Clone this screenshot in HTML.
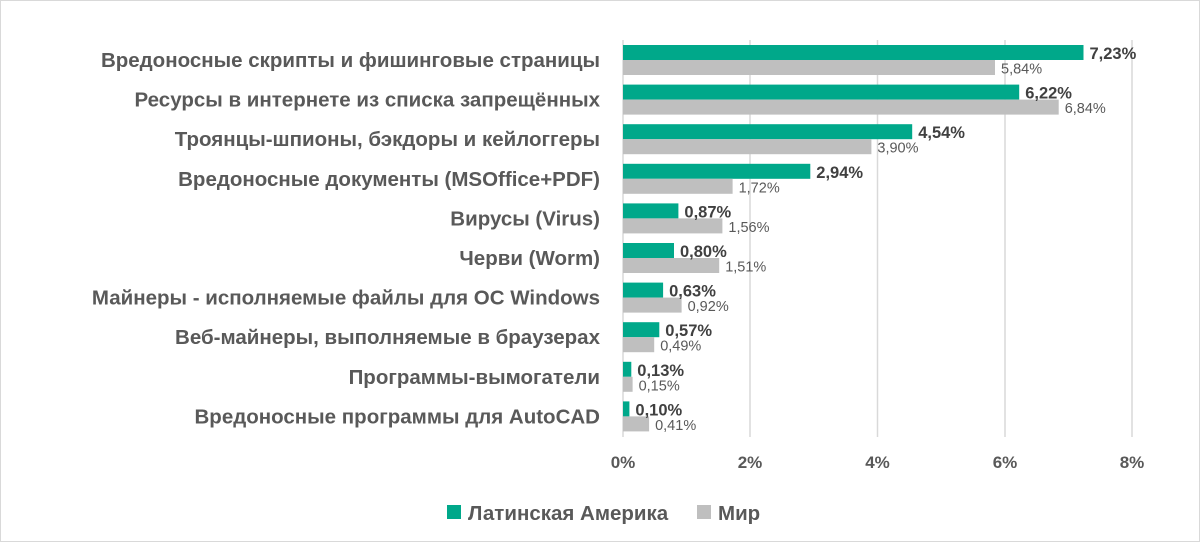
<!DOCTYPE html>
<html><head><meta charset="utf-8"><style>body{margin:0;background:#fff}svg{display:block}</style></head><body>
<svg width="1200" height="542" xmlns="http://www.w3.org/2000/svg" font-family="Liberation Sans, sans-serif">
<rect x="0.5" y="0.5" width="1199" height="541" fill="#fff" stroke="#d9d9d9"/>
<g stroke="#d9d9d9" stroke-width="1.5">
<line x1="750" y1="40" x2="750" y2="437"/><line x1="877.5" y1="40" x2="877.5" y2="437"/><line x1="1005" y1="40" x2="1005" y2="437"/><line x1="1132" y1="40" x2="1132" y2="437"/><line x1="623" y1="40" x2="623" y2="437"/>
</g>
<g font-size="20.5" font-weight="bold" fill="#595959" text-anchor="end">
<text x="600" y="67">Вредоносные скрипты и фишинговые страницы</text>
<text x="600" y="106.6">Ресурсы в интернете из списка запрещённых</text>
<text x="600" y="146.2">Троянцы-шпионы, бэкдоры и кейлоггеры</text>
<text x="600" y="185.8">Вредоносные документы (MSOffice+PDF)</text>
<text x="600" y="225.4">Вирусы (Virus)</text>
<text x="600" y="265">Черви (Worm)</text>
<text x="600" y="304.6">Майнеры - исполняемые файлы для ОС Windows</text>
<text x="600" y="344.2">Веб-майнеры, выполняемые в браузерах</text>
<text x="600" y="383.8">Программы-вымогатели</text>
<text x="600" y="423.4">Вредоносные программы для AutoCAD</text>
</g>
<g fill="#00a88a">
<rect x="623" y="45" width="460.5" height="15"/>
<rect x="623" y="84.6" width="396.2" height="15"/>
<rect x="623" y="124.2" width="289.2" height="15"/>
<rect x="623" y="163.8" width="187.3" height="15"/>
<rect x="623" y="203.4" width="55.4" height="15"/>
<rect x="623" y="243" width="51" height="15"/>
<rect x="623" y="282.6" width="40.1" height="15"/>
<rect x="623" y="322.2" width="36.3" height="15"/>
<rect x="623" y="361.8" width="8.3" height="15"/>
<rect x="623" y="401.4" width="6.4" height="15"/>
</g>
<g fill="#bfbfbf">
<rect x="623" y="60" width="372" height="15"/>
<rect x="623" y="99.6" width="435.7" height="15"/>
<rect x="623" y="139.2" width="248.4" height="15"/>
<rect x="623" y="178.8" width="109.6" height="15"/>
<rect x="623" y="218.4" width="99.4" height="15"/>
<rect x="623" y="258" width="96.2" height="15"/>
<rect x="623" y="297.6" width="58.6" height="15"/>
<rect x="623" y="337.2" width="31.2" height="15"/>
<rect x="623" y="376.8" width="9.6" height="15"/>
<rect x="623" y="416.4" width="26.1" height="15"/>
</g>
<g font-size="16.5" font-weight="bold" fill="#404040">
<text x="1089.5" y="59">7,23%</text>
<text x="1025.2" y="98.6">6,22%</text>
<text x="918.2" y="138.2">4,54%</text>
<text x="816.3" y="177.8">2,94%</text>
<text x="684.4" y="217.4">0,87%</text>
<text x="680" y="257">0,80%</text>
<text x="669.1" y="296.6">0,63%</text>
<text x="665.3" y="336.2">0,57%</text>
<text x="637.3" y="375.8">0,13%</text>
<text x="635.4" y="415.4">0,10%</text>
</g>
<g font-size="14.5" fill="#595959">
<text x="1001" y="73.5">5,84%</text>
<text x="1064.7" y="113.1">6,84%</text>
<text x="877.4" y="152.7">3,90%</text>
<text x="738.6" y="192.3">1,72%</text>
<text x="728.4" y="231.9">1,56%</text>
<text x="725.2" y="271.5">1,51%</text>
<text x="687.6" y="311.1">0,92%</text>
<text x="660.2" y="350.7">0,49%</text>
<text x="638.6" y="390.3">0,15%</text>
<text x="655.1" y="429.9">0,41%</text>
</g>
<g font-size="17" font-weight="bold" fill="#595959" text-anchor="middle">
<text x="623" y="468">0%</text><text x="750" y="468">2%</text><text x="877.5" y="468">4%</text><text x="1005" y="468">6%</text><text x="1132" y="468">8%</text>
</g>
<rect x="447" y="505" width="14" height="14" fill="#00a88a"/>
<text x="468" y="520" font-size="20.5" font-weight="bold" fill="#595959">Латинская Америка</text>
<rect x="697" y="505" width="14" height="14" fill="#bfbfbf"/>
<text x="718" y="520" font-size="20.5" font-weight="bold" fill="#595959">Мир</text>
</svg>
</body></html>
